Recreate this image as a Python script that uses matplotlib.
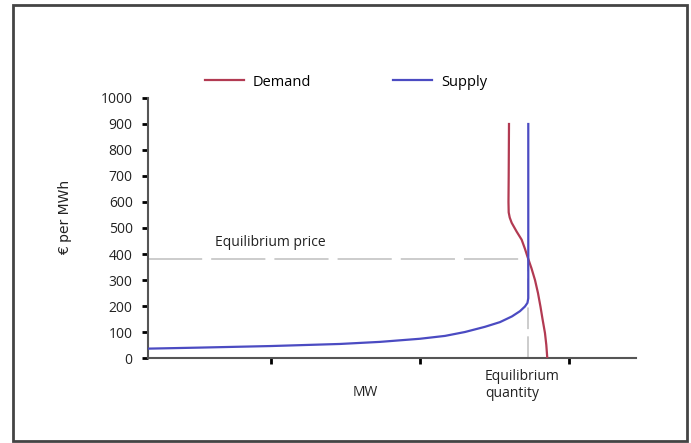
import matplotlib.pyplot as plt
from matplotlib.patches import Rectangle
from matplotlib.lines import Line2D

# supply curve (GW, EUR/MWh)
supply_q = [3.49, 10.47, 19.99, 29.26, 34.63, 40.0, 43.36, 46.04, 48.73, 50.74,
            52.35, 53.42, 54.09, 54.43, 54.54, 54.54]
supply_p = [36, 40, 46, 54, 62, 74, 85, 100, 120, 138, 160, 180, 198, 212, 230, 900]

# demand curve
demand_q = [51.95, 51.91, 51.88, 51.91, 52.05, 52.31, 52.98, 53.65, 54.09, 54.43,
            54.97, 55.44, 55.84, 56.18, 56.45, 56.78, 56.96, 57.09]
demand_p = [900, 700, 600, 560, 540, 520, 486, 455, 420, 390,
            345, 300, 250, 197, 150, 96, 50, 0]

eq_q = 54.54
eq_p = 380

y_ticks = list(range(0, 1001, 100))
x_ticks = [20, 40, 60]

plt.rcParams['font.family'] = ['Open Sans', 'DejaVu Sans']

fig = plt.figure(figsize=(6.91, 4.43), dpi=100)
fig.patches.append(Rectangle((13 / 691, 1 - 441 / 443), 674 / 691, 436 / 443,
                             transform=fig.transFigure, fill=False,
                             edgecolor='#444444', linewidth=2))

ax = fig.add_axes([148 / 691, 85 / 443, 488 / 691, 260 / 443])

red = '#b23a52'
blue = '#4b4bc2'
grey = '#c8c8c8'

# equilibrium guides
ax.plot([3.49, eq_q], [eq_p, eq_p], color=grey, lw=1.3, dashes=(30, 5), zorder=1)
ax.plot([eq_q, eq_q], [0, eq_p], color=grey, lw=1.3, dashes=(12, 4), zorder=1)

ax.plot(demand_q, demand_p, color=red, lw=1.6, zorder=3, solid_joinstyle='round')
ax.plot(supply_q, supply_p, color=blue, lw=1.6, zorder=3, solid_joinstyle='round')

ax.set_xlim(3.49, 69.0)
ax.set_ylim(0, 1000)
ax.set_yticks(y_ticks)
ax.set_xticks(x_ticks)
ax.set_xticklabels([])
ax.tick_params(axis='y', direction='out', length=4, width=2, pad=7,
               labelsize=10, labelcolor='#222222')
ax.tick_params(axis='x', direction='out', length=4, width=2)
for side in ['top', 'right']:
  ax.spines[side].set_visible(False)
for side in ['left', 'bottom']:
  ax.spines[side].set_color('#555555')
  ax.spines[side].set_linewidth(1.5)

ax.text(0.137, 0.446, 'Equilibrium price', transform=ax.transAxes,
        fontsize=10, color='#222222', va='center')
fig.text(365 / 691, 1 - 392 / 443, 'MW', fontsize=10, color='#222222',
         ha='center', va='center')
fig.text(485 / 691, 1 - 385 / 443, 'Equilibrium\nquantity', fontsize=10,
         color='#222222', ha='left', va='center', linespacing=1.1)
fig.text(65 / 691, 1 - 217 / 443, '€ per MWh', rotation=90, fontsize=10,
         color='#222222', ha='center', va='center',
         family=['Liberation Sans Narrow', 'DejaVu Sans'])

handles = [Line2D([], [], color=red, lw=1.6), Line2D([], [], color=blue, lw=1.6)]
fig.legend(handles, ['Demand', 'Supply'], loc='center', ncol=2,
           bbox_to_anchor=(346 / 691, 1 - 82 / 443), frameon=False,
           fontsize=10.5, handlelength=2.7, handletextpad=0.6, columnspacing=5.6)

fig.savefig('out.png', dpi=100)
